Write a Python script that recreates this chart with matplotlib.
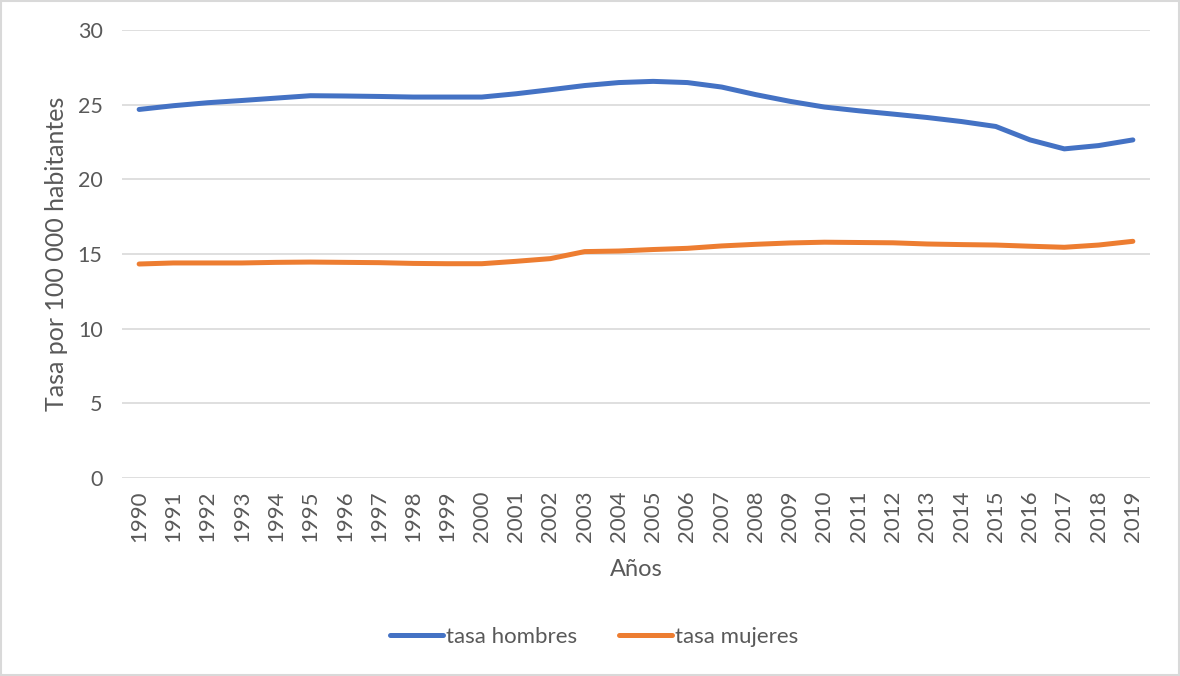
import matplotlib.pyplot as plt
from matplotlib.patches import Rectangle

# -----------------------------
# DATA
# -----------------------------
years = [str(y) for y in range(1990, 2020)]

tasa_hombres = [24.68, 24.93, 25.13, 25.28, 25.44, 25.60, 25.58, 25.55, 25.51, 25.51,
                25.51, 25.73, 26.00, 26.28, 26.48, 26.56, 26.48, 26.18, 25.67, 25.22,
                24.84, 24.59, 24.37, 24.14, 23.87, 23.54, 22.64, 22.04, 22.26, 22.64]

tasa_mujeres = [14.33, 14.40, 14.40, 14.40, 14.44, 14.46, 14.44, 14.42, 14.37, 14.35,
                14.35, 14.51, 14.69, 15.16, 15.20, 15.30, 15.38, 15.54, 15.65, 15.74,
                15.79, 15.77, 15.75, 15.67, 15.63, 15.60, 15.52, 15.45, 15.60, 15.85]

y_ticks = [0, 5, 10, 15, 20, 25, 30]

# -----------------------------
# STYLE
# -----------------------------
plt.rcParams['font.family'] = ['Lato', 'DejaVu Sans']
TXT = "#595959"
GRID = "#d9d9d9"
BLUE = "#4472C4"
ORANGE = "#ED7D31"

fig = plt.figure(figsize=(11.8, 6.76), dpi=100)
ax = fig.add_axes([122 / 1180, 1 - 478 / 676, (1150 - 122) / 1180, 448 / 676])

x = list(range(len(years)))
ax.plot(x, tasa_hombres, color=BLUE, linewidth=3.6, solid_capstyle="round",
        solid_joinstyle="round", label="tasa hombres")
ax.plot(x, tasa_mujeres, color=ORANGE, linewidth=3.6, solid_capstyle="round",
        solid_joinstyle="round", label="tasa mujeres")

ax.set_xlim(-0.5, len(years) - 0.5)
ax.set_ylim(0, 30)
ax.set_yticks(y_ticks)
ax.set_xticks(x)
ax.set_xticklabels(years, rotation=90)
ax.yaxis.grid(True, color=GRID, linewidth=1.2)
ax.set_axisbelow(True)
for s in ax.spines.values():
    s.set_visible(False)
ax.tick_params(axis="both", length=0, colors=TXT)
ax.tick_params(axis="y", pad=14, labelsize=15.5)
ax.tick_params(axis="x", pad=9, labelsize=16)

ax.set_ylabel("Tasa por 100 000 habitantes", color=TXT, fontsize=18, labelpad=7)
ax.set_xlabel("Años", color=TXT, fontsize=17, labelpad=12)

leg = fig.legend(loc="center", bbox_to_anchor=(594 / 1180, 1 - 637 / 676), ncol=2,
                 frameon=False, fontsize=16, handlelength=2.4, handletextpad=0.1,
                 columnspacing=1.9)
for t in leg.get_texts():
    t.set_color(TXT)

# outer chart border
fig.patches.append(Rectangle((0.001, 0.001), 0.998, 0.997, transform=fig.transFigure,
                             fill=False, edgecolor=GRID, linewidth=1.5))

fig.savefig("out.png", dpi=100)
